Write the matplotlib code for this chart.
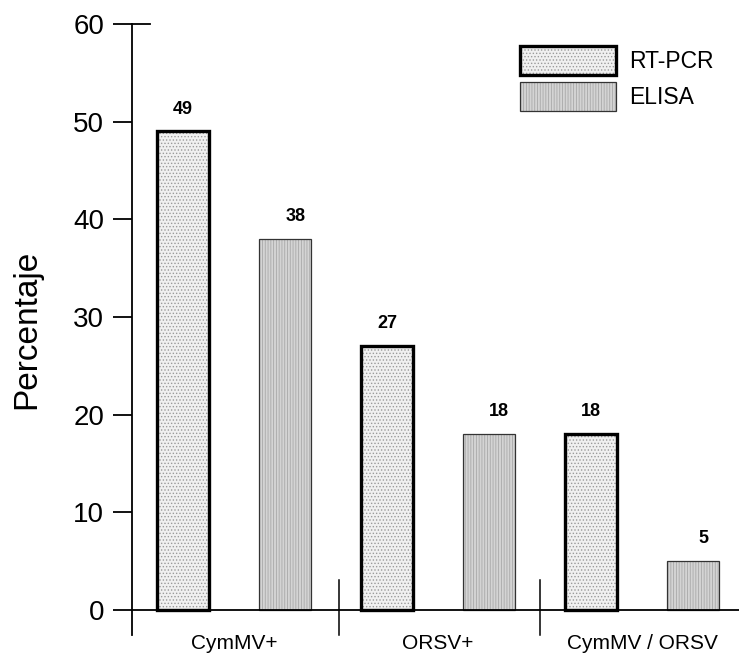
import numpy as np
import matplotlib
matplotlib.use("Agg")
import matplotlib.pyplot as plt
from matplotlib.patches import Patch
from matplotlib.legend_handler import HandlerTuple

plt.rcParams['font.family'] = ['Liberation Sans', 'DejaVu Sans']
plt.rcParams['hatch.linewidth'] = 0.6

# datos
grupos = ['CymMV+', 'ORSV+', 'CymMV / ORSV']
series = ['RT-PCR', 'ELISA']
rt_pcr = [49, 27, 18]
elisa = [38, 18, 5]
yticks = [0, 10, 20, 30, 40, 50, 60]

fig = plt.figure(figsize=(7.39, 6.54), dpi=100)
ax = fig.add_axes([132 / 739, 19 / 654, 1 - 132 / 739, 611 / 654])

x = np.arange(len(grupos)) * 2
w = 0.51

# RT-PCR: punteado, borde grueso
ax.bar(x, rt_pcr, w, color='#f0f0f0', edgecolor='#9a9a9a', hatch='.....', linewidth=0, zorder=2)
ax.bar(x, rt_pcr, w, fill=False, edgecolor='black', linewidth=2.4, zorder=3)
# ELISA: rayado vertical, borde fino
ax.bar(x + 1, elisa, w, color='#d4d4d4', edgecolor='#a8a8a8', hatch='||||||', linewidth=0, zorder=2)
ax.bar(x + 1, elisa, w, fill=False, edgecolor='#333333', linewidth=0.9, zorder=3)

for xi, v in zip(x, rt_pcr):
    ax.annotate(str(v), (xi, v), xytext=(0, 10), textcoords='offset points',
                ha='center', va='bottom', fontsize=13, fontweight='bold')
for xi, v in zip(x + 1, elisa):
    ax.annotate(str(v), (xi + 0.1, v), xytext=(0, 10), textcoords='offset points',
                ha='center', va='bottom', fontsize=13, fontweight='bold')

ax.set_xlim(-0.5, 5.45)
ax.set_ylim(-2.56, 60)
for s in ['top', 'right', 'bottom']:
    ax.spines[s].set_visible(False)
ax.spines['left'].set_linewidth(1.3)
ax.set_xticks([])
ax.set_yticks(yticks)
ax.tick_params(axis='y', direction='out', length=14, width=1.3, labelsize=20, pad=6)

# eje x en y=0
ax.plot([-0.5, 5.45], [0, 0], color='black', lw=1.3, clip_on=False, zorder=4)
# marca a la derecha en 60
ax.plot([-0.5, -0.32], [60, 60], color='black', lw=1.3, clip_on=False)
# separadores de grupos
for sx in [1.53, 3.5]:
    ax.plot([sx, sx], [3.1, -2.56], color='black', lw=1.1, clip_on=False)

for xi, g in zip(x, grupos):
    ax.text(xi + 0.5, -2.5, g, ha='center', va='top', fontsize=15)

ax.set_ylabel('Percentaje', fontsize=24, labelpad=22)

h1 = (Patch(facecolor='#f0f0f0', edgecolor='#9a9a9a', hatch='.....', linewidth=0),
      Patch(fill=False, edgecolor='black', linewidth=2.4))
h2 = (Patch(facecolor='#d4d4d4', edgecolor='#a8a8a8', hatch='||||||', linewidth=0),
      Patch(fill=False, edgecolor='#333333', linewidth=0.9))
ax.legend([h1, h2], series, handler_map={tuple: HandlerTuple(ndivide=1)},
          loc='upper left', bbox_to_anchor=(520 / 739, 1 - 46 / 654),
          bbox_transform=fig.transFigure, frameon=False, fontsize=16.5,
          handlelength=4.2, handleheight=1.58, labelspacing=0.3,
          handletextpad=0.55, borderpad=0, borderaxespad=0)

fig.savefig('out.png', dpi=100)
